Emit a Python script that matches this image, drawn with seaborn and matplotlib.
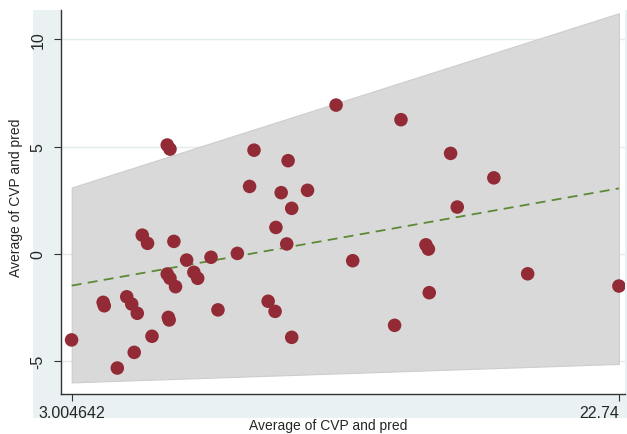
import matplotlib
matplotlib.use("Agg")
import matplotlib.pyplot as plt
import matplotlib.transforms as mtransforms
from matplotlib.patches import Rectangle
import seaborn as sns

# averages (x) and values (y)
avg = [3.00, 4.14, 4.18, 4.99, 5.17, 5.37, 4.65, 5.26, 5.90, 6.49, 6.52,
       6.45, 6.55, 6.75, 7.15, 7.41, 7.55, 8.03, 8.28, 6.45, 6.55, 5.55,
       5.74, 6.69, 8.98, 10.09, 10.34, 10.94, 10.76, 10.37, 10.94, 12.54,
       9.58, 10.81, 9.42, 10.56, 11.51, 13.14, 14.88, 16.67, 18.23, 16.91,
       15.78, 15.87, 15.90, 14.65, 19.45, 22.74]
val = [-4.00, -2.25, -2.41, -1.99, -2.33, -2.76, -5.31, -4.58, -3.83, -2.95,
       -3.07, -0.93, -1.13, -1.52, -0.28, -0.85, -1.13, -0.15, -2.60, 5.08,
       4.89, 0.88, 0.50, 0.59, 0.03, -2.20, -2.67, -3.88, 0.47, 1.24, 2.13,
       6.94, 4.84, 4.35, 3.15, 2.86, 2.97, -0.31, 6.26, 4.69, 3.55, 2.19,
       0.43, 0.23, -1.80, -3.32, -0.92, -1.49]

# fitted line and band ends
fit_x = [3.004642, 22.74]
fit_y = [-1.47, 3.06]
band_upper = [3.10, 11.22]
band_lower = [-5.98, -5.12]

x_ticks = [3.004642, 22.74]
x_ticklabels = ["3.004642", "22.74"]
y_ticks = [-5, 0, 5, 10]

sns.set_style("white")
plt.rcParams['font.family'] = ['Liberation Sans', 'DejaVu Sans']

W, H = 627, 435
fig = plt.figure(figsize=(6.27, 4.35), dpi=100)
fig.patch.set_facecolor("white")

# light graph region behind the axes
fig.add_artist(Rectangle((33 / W, (H - 419) / H), 1 - 33 / W, (419 - 11) / H,
                         transform=fig.transFigure, facecolor="#e9f1f3",
                         edgecolor="none", zorder=-10))

ax = fig.add_axes([61 / W, (H - 395) / H, (625 - 61) / W, (395 - 11) / H])
ax.set_zorder(1)
ax.set_facecolor("white")

for yt in y_ticks:
    ax.axhline(yt, color="#e3ecee", lw=1, zorder=0)

ax.fill_between(fit_x, band_lower, band_upper, color="#d9d9d9",
                edgecolor="#cdcdcd", lw=0.8, zorder=1)
sns.lineplot(x=fit_x, y=fit_y, ax=ax, color="#5b8a36", lw=1.3,
             linestyle=(0, (5.5, 3.5)), zorder=2)
sns.scatterplot(x=avg, y=val, ax=ax, color="#922b36", s=95,
                edgecolor="none", zorder=3, legend=False)

ax.set_xlim(2.619, 22.96)
ax.set_ylim(-6.52, 11.37)

ax.set_xticks(x_ticks)
ax.set_xticklabels(x_ticklabels, fontsize=11.5)
ax.set_yticks(y_ticks)
ax.set_yticklabels([str(t) for t in y_ticks], fontsize=11.5, rotation=90, va="center")

lbls = ax.get_xticklabels()
lbls[-1].set_horizontalalignment("right")
lbls[-1].set_transform(lbls[-1].get_transform() +
                       mtransforms.ScaledTranslation(5 / 100, 0, fig.dpi_scale_trans))

ax.tick_params(axis="y", direction="out", length=5, width=0.8, color="#333333", pad=6, left=True)
ax.tick_params(axis="x", direction="out", length=5, width=0.8, color="#333333", pad=3, bottom=True)

for side in ["top", "right"]:
    ax.spines[side].set_visible(False)
for side in ["left", "bottom"]:
    ax.spines[side].set_color("#333333")
    ax.spines[side].set_linewidth(1.0)

ax.set_xlabel("Average of CVP and pred", fontsize=10)
ax.set_ylabel("Average of CVP and pred", fontsize=10)
ax.xaxis.set_label_coords((328.5 - 61) / 564, -(426 - 395) / 384)
ax.yaxis.set_label_coords((16 - 61) / 564, (395 - 197.5) / 384)
ax.xaxis.label.set_va("center")
ax.yaxis.label.set_va("center")

fig.savefig("out.png", dpi=100)
